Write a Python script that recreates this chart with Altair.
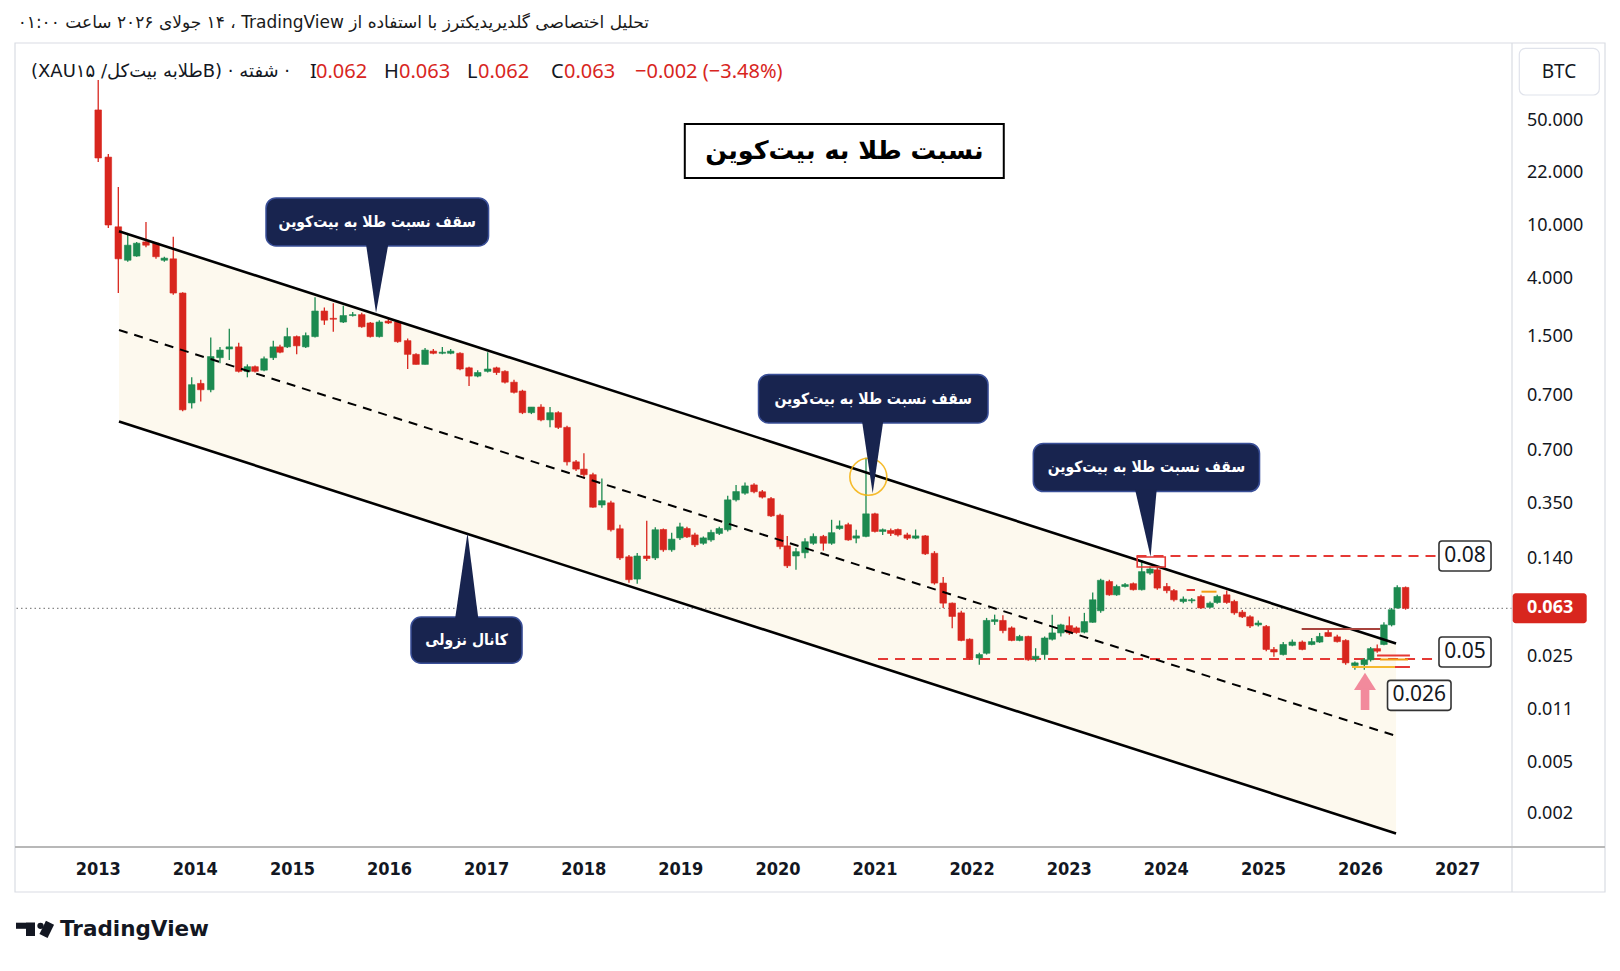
import altair as alt
import pandas as pd

# ---------------- XAU/BTC candles (bar time as decimal year) ----------------
bar_time = [
    2013.000, 2013.104, 2013.207, 2013.304, 2013.396, 2013.492, 2013.595, 2013.681, 2013.773, 2013.870,
    2013.963, 2014.056, 2014.159, 2014.254, 2014.350, 2014.447, 2014.536, 2014.615, 2014.708, 2014.803,
    2014.872, 2014.947, 2015.044, 2015.137, 2015.233, 2015.329, 2015.421, 2015.524, 2015.621, 2015.714,
    2015.802, 2015.895, 2015.988, 2016.084, 2016.187, 2016.273, 2016.366, 2016.451, 2016.544, 2016.630,
    2016.726, 2016.819, 2016.908, 2017.011, 2017.102, 2017.189, 2017.282, 2017.369, 2017.461, 2017.560,
    2017.653, 2017.738, 2017.828, 2017.921, 2018.002, 2018.095, 2018.187, 2018.280, 2018.373, 2018.466,
    2018.551, 2018.649, 2018.737, 2018.820, 2018.906, 2018.991, 2019.063, 2019.145, 2019.232, 2019.311,
    2019.396, 2019.483, 2019.569, 2019.661, 2019.754, 2019.839, 2019.929, 2020.022, 2020.096, 2020.186,
    2020.279, 2020.365, 2020.468, 2020.553, 2020.635, 2020.724, 2020.806, 2020.907, 2020.999, 2021.079,
    2021.162, 2021.236, 2021.332, 2021.418, 2021.517, 2021.612, 2021.702, 2021.795, 2021.888, 2021.974,
    2022.074, 2022.149, 2022.232, 2022.317, 2022.407, 2022.489, 2022.578, 2022.654, 2022.747, 2022.825,
    2022.914, 2023.001, 2023.074, 2023.156, 2023.242, 2023.324, 2023.413, 2023.488, 2023.575, 2023.660,
    2023.747, 2023.832, 2023.907, 2024.005, 2024.078, 2024.175, 2024.262, 2024.357, 2024.450, 2024.524,
    2024.622, 2024.700, 2024.782, 2024.862, 2024.947, 2025.029, 2025.108, 2025.204, 2025.297, 2025.400,
    2025.497, 2025.579, 2025.667, 2025.760, 2025.847, 2025.942, 2026.039, 2026.104, 2026.172, 2026.241,
    2026.320, 2026.378, 2026.464,
]
bar_open = [
    0.614, 0.495, 0.360, 0.309, 0.315, 0.336, 0.334, 0.309, 0.311, 0.266,
    0.161, 0.176, 0.171, 0.198, 0.206, 0.208, 0.186, 0.190, 0.187, 0.198,
    0.208, 0.208, 0.218, 0.208, 0.218, 0.245, 0.237, 0.233, 0.240, 0.241,
    0.232, 0.218, 0.234, 0.233, 0.214, 0.201, 0.192, 0.204, 0.202, 0.202,
    0.202, 0.189, 0.182, 0.186, 0.189, 0.186, 0.177, 0.170, 0.154, 0.158,
    0.149, 0.154, 0.144, 0.123, 0.119, 0.116, 0.101, 0.102, 0.0906, 0.0797,
    0.0720, 0.0800, 0.0793, 0.0903, 0.0823, 0.0869, 0.0907, 0.0881, 0.0848, 0.0861,
    0.0887, 0.0902, 0.1034, 0.1066, 0.1107, 0.1073, 0.1040, 0.0964, 0.0838, 0.0800,
    0.0812, 0.0848, 0.0875, 0.0848, 0.0907, 0.0923, 0.0868, 0.0875, 0.0970, 0.0895,
    0.0899, 0.0903, 0.0881, 0.0868, 0.0877, 0.0810, 0.0707, 0.0645, 0.0617, 0.0547,
    0.0502, 0.0513, 0.0593, 0.0596, 0.0576, 0.0544, 0.0554, 0.0500, 0.0510, 0.0547,
    0.0563, 0.0582, 0.0576, 0.0565, 0.0591, 0.0623, 0.0712, 0.0670, 0.0696, 0.0705,
    0.0686, 0.0740, 0.0751, 0.0696, 0.0683, 0.0650, 0.0652, 0.0665, 0.0633, 0.0647,
    0.0670, 0.0650, 0.0619, 0.0606, 0.0584, 0.0580, 0.0522, 0.0510, 0.0532, 0.0540,
    0.0534, 0.0540, 0.0564, 0.0553, 0.0544, 0.0485, 0.0487, 0.0498, 0.0524, 0.0534,
    0.0584, 0.0631, 0.0693,
]
bar_high = [
    0.704, 0.502, 0.432, 0.350, 0.336, 0.368, 0.336, 0.314, 0.344, 0.267,
    0.181, 0.179, 0.217, 0.208, 0.226, 0.212, 0.192, 0.191, 0.199, 0.214,
    0.210, 0.227, 0.219, 0.222, 0.261, 0.249, 0.254, 0.251, 0.244, 0.243,
    0.233, 0.235, 0.237, 0.235, 0.216, 0.202, 0.207, 0.206, 0.208, 0.206,
    0.203, 0.190, 0.187, 0.203, 0.190, 0.187, 0.179, 0.171, 0.158, 0.160,
    0.158, 0.155, 0.145, 0.124, 0.128, 0.117, 0.114, 0.103, 0.0923, 0.0804,
    0.0811, 0.0940, 0.0912, 0.0907, 0.0890, 0.0931, 0.0914, 0.0890, 0.0875, 0.0902,
    0.0914, 0.1053, 0.1107, 0.1119, 0.1116, 0.1082, 0.1047, 0.0970, 0.0877, 0.0830,
    0.0868, 0.0887, 0.0881, 0.0944, 0.0941, 0.0931, 0.0902, 0.1253, 0.0975, 0.0907,
    0.0907, 0.0907, 0.0890, 0.0903, 0.0881, 0.0818, 0.0727, 0.0647, 0.0623, 0.0549,
    0.0514, 0.0603, 0.0612, 0.0610, 0.0580, 0.0558, 0.0556, 0.0525, 0.0554, 0.0612,
    0.0587, 0.0607, 0.0580, 0.0617, 0.0677, 0.0721, 0.0718, 0.0702, 0.0707, 0.0709,
    0.0786, 0.0763, 0.0757, 0.0707, 0.0688, 0.0665, 0.0660, 0.0670, 0.0650, 0.0670,
    0.0683, 0.0655, 0.0625, 0.0610, 0.0596, 0.0584, 0.0528, 0.0540, 0.0546, 0.0544,
    0.0550, 0.0563, 0.0571, 0.0558, 0.0547, 0.0494, 0.0502, 0.0528, 0.0534, 0.0591,
    0.0631, 0.0700, 0.0696,
]
bar_low = [
    0.484, 0.358, 0.266, 0.307, 0.314, 0.328, 0.311, 0.307, 0.264, 0.155,
    0.157, 0.162, 0.169, 0.193, 0.196, 0.185, 0.181, 0.185, 0.186, 0.196,
    0.202, 0.207, 0.201, 0.207, 0.217, 0.230, 0.223, 0.232, 0.239, 0.227,
    0.217, 0.217, 0.231, 0.212, 0.188, 0.192, 0.192, 0.201, 0.201, 0.201,
    0.187, 0.174, 0.181, 0.185, 0.183, 0.176, 0.168, 0.153, 0.153, 0.148,
    0.144, 0.143, 0.121, 0.118, 0.114, 0.0997, 0.0997, 0.0895, 0.0786, 0.0708,
    0.0705, 0.0782, 0.0786, 0.0816, 0.0816, 0.0861, 0.0869, 0.0834, 0.0842, 0.0854,
    0.0881, 0.0895, 0.1026, 0.1058, 0.1066, 0.1040, 0.0956, 0.0825, 0.0757, 0.0751,
    0.0792, 0.0842, 0.0820, 0.0842, 0.0902, 0.0858, 0.0848, 0.0872, 0.0891, 0.0881,
    0.0877, 0.0875, 0.0861, 0.0864, 0.0804, 0.0702, 0.0631, 0.0575, 0.0542, 0.0498,
    0.0487, 0.0510, 0.0584, 0.0562, 0.0542, 0.0542, 0.0496, 0.0494, 0.0498, 0.0544,
    0.0554, 0.0558, 0.0561, 0.0562, 0.0590, 0.0617, 0.0667, 0.0667, 0.0693, 0.0683,
    0.0683, 0.0734, 0.0686, 0.0675, 0.0650, 0.0645, 0.0645, 0.0629, 0.0631, 0.0643,
    0.0643, 0.0612, 0.0603, 0.0576, 0.0580, 0.0518, 0.0505, 0.0508, 0.0530, 0.0520,
    0.0532, 0.0538, 0.0553, 0.0539, 0.0487, 0.0476, 0.0476, 0.0494, 0.0514, 0.0532,
    0.0580, 0.0629, 0.0626,
]
bar_close = [
    0.493, 0.363, 0.311, 0.331, 0.334, 0.331, 0.314, 0.312, 0.266, 0.156,
    0.175, 0.171, 0.199, 0.205, 0.208, 0.186, 0.190, 0.186, 0.197, 0.208,
    0.203, 0.218, 0.209, 0.219, 0.245, 0.235, 0.236, 0.240, 0.241, 0.228,
    0.218, 0.233, 0.232, 0.213, 0.201, 0.192, 0.205, 0.202, 0.203, 0.204,
    0.188, 0.182, 0.185, 0.188, 0.185, 0.177, 0.169, 0.154, 0.158, 0.149,
    0.154, 0.144, 0.123, 0.119, 0.116, 0.100, 0.103, 0.0902, 0.0793, 0.0718,
    0.0800, 0.0791, 0.0902, 0.0823, 0.0864, 0.0914, 0.0873, 0.0842, 0.0869, 0.0891,
    0.0907, 0.1034, 0.1074, 0.1102, 0.1073, 0.1047, 0.0961, 0.0835, 0.0765, 0.0816,
    0.0854, 0.0875, 0.0848, 0.0890, 0.0918, 0.0861, 0.0877, 0.0970, 0.0895, 0.0902,
    0.0887, 0.0881, 0.0868, 0.0877, 0.0808, 0.0707, 0.0645, 0.0607, 0.0544, 0.0502,
    0.0510, 0.0596, 0.0598, 0.0569, 0.0544, 0.0554, 0.0498, 0.0506, 0.0550, 0.0563,
    0.0584, 0.0563, 0.0564, 0.0593, 0.0655, 0.0716, 0.0670, 0.0696, 0.0702, 0.0686,
    0.0745, 0.0754, 0.0691, 0.0683, 0.0655, 0.0657, 0.0655, 0.0631, 0.0645, 0.0665,
    0.0647, 0.0617, 0.0606, 0.0581, 0.0589, 0.0522, 0.0516, 0.0534, 0.0540, 0.0522,
    0.0541, 0.0554, 0.0554, 0.0541, 0.0491, 0.0491, 0.0498, 0.0524, 0.0518, 0.0584,
    0.0626, 0.0693, 0.063,
]

# ---------------- price scale labels ----------------
price_tick_values = [0.5838, 0.4604, 0.3614, 0.2836, 0.2176, 0.1662, 0.1293,
                     0.1015, 0.07893, 0.05044, 0.03959, 0.03108, 0.02462]
price_tick_labels = ["50.000", "22.000", "10.000", "4.000", "1.500", "0.700", "0.700",
                     "0.350", "0.140", "0.025", "0.011", "0.005", "0.002"]
year_ticks = list(range(2013, 2028))

last_price = 0.063
resistance_level = 0.08
support_level = 0.05

# ---------------- descending channel ----------------
channel_time = [2013.214, 2026.366]
channel_upper = [0.3526, 0.05365]
channel_middle = [0.2247, 0.03516]
channel_lower = [0.1479, 0.02252]

resistance_span = [2023.693, 2026.778]
support_span = [2021.031, 2026.778]

# ---------------- callouts ----------------
ceiling_text = "سقف نسبت طلا به بیت\u200cکوین"
channel_text = "کانال نزولی"
title_text = "نسبت طلا به بیت\u200cکوین"

callout_id = ["c1", "c2", "c3", "c4"]
callout_text = [ceiling_text, ceiling_text, ceiling_text, channel_text]
callout_left = [2014.728, 2019.800, 2022.630, 2016.221]
callout_right = [2017.020, 2022.164, 2024.960, 2017.365]
callout_top = [0.4107, 0.1834, 0.1338, 0.06055]
callout_bottom = [0.3298, 0.1469, 0.1074, 0.04901]
callout_mid_t = [2015.874, 2020.982, 2023.795, 2016.793]
callout_mid_v = [0.3680, 0.1641, 0.1199, 0.05445]
pointer_left = [2015.758, 2020.866, 2023.678, 2016.675]
pointer_tip_t = [2015.861, 2020.976, 2023.838, 2016.803]
pointer_right = [2015.988, 2021.085, 2023.901, 2016.915]
pointer_base = [0.3328, 0.1483, 0.1084, 0.06000]
pointer_tip = [0.2428, 0.1066, 0.07977, 0.08886]

level_box_text = ["0.08", "0.05", "0.026"]
level_box_left = [2026.808, 2026.808, 2026.278]
level_box_right = [2027.344, 2027.344, 2026.932]
level_box_mid_t = [2027.076, 2027.076, 2026.605]
level_box_mid_v = [0.08, 0.0516, 0.04233]

title_left, title_right, title_mid_t, title_mid_v = 2019.041, 2022.326, 2020.684, 0.5089

arrow_head_t = [2025.933, 2026.046, 2026.159]
arrow_head_base = 0.04339
arrow_head_tip = 0.04695
arrow_shaft_t = [2026.002, 2026.091]
arrow_shaft_v = [0.04359, 0.03959]

# small hand-drawn marks near the latest bars
mark_t1 = [2025.394, 2026.170, 2026.201, 2025.912, 2026.355, 2024.209, 2024.362]
mark_t2 = [2026.201, 2026.509, 2026.489, 2026.355, 2026.509, 2024.295, 2024.517]
mark_v = [0.05732, 0.05078, 0.04986, 0.04818, 0.04818, 0.06850, 0.06797]
mark_col = ["#a8433c", "#e53935", "#f39c12", "#f5b82e", "#e53935", "#e53935", "#f39c12"]

peak_box = dict(t1=2023.700, t2=2023.989, v1=0.07966, v2=0.07606)
spike_ring = dict(t=2020.931, v=0.1149)

# ---------------- styling ----------------
GREEN = "#1c8a50"
RED = "#d8261e"
NAVY = "#18244f"
INK = "#131722"
W, H = 1497, 804
FA = "DejaVu Sans"
FA_NARROW = '"DejaVu Sans Condensed", "DejaVu Sans"'
FN = "Noto Sans"

x_scale = alt.Scale(domain=[2012.143, 2027.560], nice=False, zero=False)
y_scale = alt.Scale(type="log", domain=[0.02117, 0.8337], nice=False)


def xq(field):
    return alt.X(field, type="quantitative", scale=x_scale, axis=None)


def yq(field):
    return alt.Y(field, type="quantitative", scale=y_scale, axis=None)


candles = pd.DataFrame({"t": bar_time, "o": bar_open, "h": bar_high,
                        "l": bar_low, "c": bar_close})
candles["dir"] = ["down" if o > c else "up" for o, c in zip(bar_open, bar_close)]
dir_scale = alt.Scale(domain=["up", "down"], range=[GREEN, RED])

one = pd.DataFrame({"k": [0]})

# channel fill
chan_df = pd.DataFrame({"t": channel_time, "up": channel_upper,
                        "mid": channel_middle, "lo": channel_lower})
fill = alt.Chart(chan_df).mark_area(color="#fdf9ee").encode(
    x=xq("t"), y=yq("up"), y2="lo")

# horizontal levels
lv_df = pd.DataFrame({"t1": [resistance_span[0], support_span[0]],
                      "t2": [resistance_span[1], support_span[1]],
                      "v": [resistance_level, support_level]})
levels = alt.Chart(lv_df).mark_rule(color="#e53935", strokeWidth=2,
                                    strokeDash=[10, 7]).encode(
    x=xq("t1"), x2="t2", y=yq("v"))

price_df = pd.DataFrame({"p": [last_price], "txt": [f"{last_price:.3f}"]})
price_line = alt.Chart(price_df).mark_rule(color="#888888", strokeWidth=1.3,
                                           strokeDash=[1.5, 3]).encode(y=yq("p"))

wicks = alt.Chart(candles).mark_rule(strokeWidth=1.3).encode(
    x=xq("t"), y=yq("l"), y2="h",
    color=alt.Color("dir:N", scale=dir_scale, legend=None))

bodies = alt.Chart(candles).mark_rect(width=6.6, strokeWidth=0.6).encode(
    x=xq("t"), y=yq("o"), y2="c",
    color=alt.Color("dir:N", scale=dir_scale, legend=None),
    stroke=alt.Stroke("dir:N", scale=dir_scale, legend=None))

edge_df = pd.DataFrame({"t": channel_time * 2, "v": channel_upper + channel_lower,
                        "edge": ["upper", "upper", "lower", "lower"]})
edges = alt.Chart(edge_df).mark_line(color="black", strokeWidth=2.6).encode(
    x=xq("t"), y=yq("v"), detail="edge:N")
middle = alt.Chart(chan_df).mark_line(color="black", strokeWidth=2,
                                      strokeDash=[9, 7]).encode(x=xq("t"), y=yq("mid"))

marks_df = pd.DataFrame({"t1": mark_t1, "t2": mark_t2, "v": mark_v, "col": mark_col})
scribbles = alt.Chart(marks_df).mark_rule(strokeWidth=2).encode(
    x=xq("t1"), x2="t2", y=yq("v"), color=alt.Color("col:N", scale=None))

peak = alt.Chart(pd.DataFrame([peak_box])).mark_rect(
    fillOpacity=0, stroke="#e53935", strokeWidth=1.6).encode(
    x=xq("t1"), x2="t2", y=yq("v1"), y2="v2")

ring = alt.Chart(pd.DataFrame([spike_ring])).mark_point(
    shape="circle", size=1369, filled=False, color="#f5b10a",
    strokeWidth=1.6, opacity=0.85).encode(x=xq("t"), y=yq("v"))

co_df = pd.DataFrame({"id": callout_id, "text": callout_text, "t1": callout_left,
                      "t2": callout_right, "v1": callout_top, "v2": callout_bottom,
                      "tm": callout_mid_t, "vm": callout_mid_v})
boxes = alt.Chart(co_df).mark_rect(cornerRadius=10, color=NAVY, stroke="#3a4f98",
                                   strokeWidth=1.5).encode(
    x=xq("t1"), x2="t2", y=yq("v1"), y2="v2")
ptr_rows = []
for i, cid in enumerate(callout_id):
    ptr_rows += [
        {"id": cid, "t": pointer_left[i], "b": pointer_base[i], "e": pointer_base[i]},
        {"id": cid, "t": pointer_tip_t[i], "b": pointer_base[i], "e": pointer_tip[i]},
        {"id": cid, "t": pointer_right[i], "b": pointer_base[i], "e": pointer_base[i]},
    ]
pointers = alt.Chart(pd.DataFrame(ptr_rows)).mark_area(color=NAVY).encode(
    x=xq("t"), y=yq("b"), y2="e", detail="id:N")
co_text = alt.Chart(co_df).mark_text(color="white", font=FA_NARROW, fontWeight="bold",
                                     fontSize=15.5, baseline="middle").encode(
    x=xq("tm"), y=yq("vm"), text="text:N")

title_df = pd.DataFrame({"t1": [title_left], "t2": [title_right],
                         "tm": [title_mid_t], "v": [title_mid_v], "text": [title_text]})
title_box = alt.Chart(title_df).mark_rect(height=54, fill="white", stroke="black",
                                          strokeWidth=2).encode(
    x=xq("t1"), x2="t2", y=yq("v"))
title_txt = alt.Chart(title_df).mark_text(font=FA, fontWeight="bold", fontSize=25.5,
                                          color="black", baseline="middle").encode(
    x=xq("tm"), y=yq("v"), text="text:N")

lb_df = pd.DataFrame({"text": level_box_text, "t1": level_box_left, "t2": level_box_right,
                      "tm": level_box_mid_t, "v": level_box_mid_v})
lb_box = alt.Chart(lb_df).mark_rect(height=30, fill="white", stroke="#333333",
                                    strokeWidth=1.6, cornerRadius=3).encode(
    x=xq("t1"), x2="t2", y=yq("v"))
lb_txt = alt.Chart(lb_df).mark_text(font=FN, fontSize=21, color=INK,
                                    baseline="middle").encode(
    x=xq("tm"), y=yq("v"), text="text:N")

head_df = pd.DataFrame({"t": arrow_head_t, "b": [arrow_head_base] * 3,
                        "e": [arrow_head_base, arrow_head_tip, arrow_head_base]})
arrow_head = alt.Chart(head_df).mark_area(color="#f28a9c").encode(
    x=xq("t"), y=yq("b"), y2="e")
shaft_df = pd.DataFrame({"t1": [arrow_shaft_t[0]], "t2": [arrow_shaft_t[1]],
                         "v1": [arrow_shaft_v[0]], "v2": [arrow_shaft_v[1]]})
arrow_shaft = alt.Chart(shaft_df).mark_rect(color="#f28a9c").encode(
    x=xq("t1"), x2="t2", y=yq("v1"), y2="v2")

# time scale labels under the panel
year_df = pd.DataFrame({"year": year_ticks, "label": [str(y) for y in year_ticks]})
year_txt = alt.Chart(year_df).mark_text(
    font='"Liberation Sans Narrow", "DejaVu Sans Condensed", Roboto', fontSize=18,
    fontWeight="bold", color=INK, baseline="middle").encode(
    x=xq("year"), y=alt.value(H + 23), text="label:N")

# price scale on the right
tick_df = pd.DataFrame({"v": price_tick_values, "label": price_tick_labels})
tick_txt = alt.Chart(tick_df).mark_text(align="left", baseline="middle", font=FN,
                                        fontSize=18, color=INK).encode(
    x=alt.value(W + 15), y=yq("v"), text="label:N")
price_box = alt.Chart(price_df).mark_rect(height=30, color=RED, cornerRadius=3).encode(
    x=alt.value(W + 0.7), x2=alt.value(W + 74.7), y=yq("p"))
price_txt = alt.Chart(price_df).mark_text(align="left", baseline="middle", font=FN,
                                          fontSize=18, fontWeight="bold",
                                          color="white").encode(
    x=alt.value(W + 15), y=yq("p"), text="txt:N")

# panel frame and chrome
frame = alt.Chart(one).mark_rect(fillOpacity=0, stroke="#d9dce3", strokeWidth=1.2).encode(
    x=alt.value(0), x2=alt.value(W + 93), y=alt.value(0), y2=alt.value(H + 45))
vsep = alt.Chart(one).mark_rule(color="#d9dce3", strokeWidth=1.2).encode(
    x=alt.value(W), y=alt.value(0), y2=alt.value(H + 45))
hsep = alt.Chart(one).mark_rule(color="#b8b8b8", strokeWidth=2).encode(
    x=alt.value(0), x2=alt.value(W + 93), y=alt.value(H))
btc_btn = alt.Chart(one).mark_rect(fill="white", stroke="#e0e3eb", strokeWidth=1.2,
                                   cornerRadius=6).encode(
    x=alt.value(W + 7.3), x2=alt.value(W + 87.3), y=alt.value(5.3), y2=alt.value(52))
btc_txt = alt.Chart(one).mark_text(font=FN, fontSize=19, color=INK,
                                   baseline="middle").encode(
    x=alt.value(W + 47), y=alt.value(29), text=alt.value("BTC"))

header_1 = alt.Chart(one).mark_text(font=FA, fontSize=17, color="#1a1a1a",
                                    align="right", baseline="middle").encode(
    x=alt.value(634), y=alt.value(-20),
    text=alt.value("\u202bتحلیل اختصاصی گلدیریدیکترز با استفاده از TradingView\u200f ، "
                   "۱۴ جولای ۲۰۲۶ ساعت ۰۱:۰۰\u202c"))

legend_tokens = [
    ("(XAUطلابه بیت\u200cکل/ ۱۵B) · شفته ·", 16, INK, FA, 18),
    ("I", 295, INK, FN, 20), ("0.062", 301, RED, FN, 20),
    ("H", 369, INK, FN, 20), ("0.063", 384, RED, FN, 20),
    ("L", 452, INK, FN, 20), ("0.062", 463, RED, FN, 20),
    ("C", 536, INK, FN, 20), ("0.063", 549, RED, FN, 20),
    ("\u22120.002 (\u22123.48%)", 620, RED, FN, 20),
]
header_2 = [
    alt.Chart(one).mark_text(font=f, fontSize=fs, color=col, align="left",
                             baseline="middle").encode(
        x=alt.value(px), y=alt.value(29), text=alt.value(txt))
    for txt, px, col, f, fs in legend_tokens
]

# TradingView logo
logo_bar = alt.Chart(one).mark_rect(color=INK).encode(
    x=alt.value(1), x2=alt.value(20), y=alt.value(879.7), y2=alt.value(885.8))
logo_stem = alt.Chart(one).mark_rect(color=INK).encode(
    x=alt.value(11), x2=alt.value(20), y=alt.value(879.7), y2=alt.value(893))
logo_dot = alt.Chart(one).mark_point(shape="circle", size=40, filled=True,
                                     color=INK, opacity=1).encode(
    x=alt.value(25.5), y=alt.value(882.8))
logo_slash = alt.Chart(one).mark_rule(color=INK, strokeWidth=9, strokeCap="butt").encode(
    x=alt.value(35), x2=alt.value(28.5), y=alt.value(879.7), y2=alt.value(893))
logo_txt = alt.Chart(one).mark_text(font=FA, fontSize=21.5, fontWeight="bold", color=INK,
                                    align="left", baseline="alphabetic").encode(
    x=alt.value(45), y=alt.value(893), text=alt.value("TradingView"))

chart = alt.layer(
    fill, levels, price_line, wicks, bodies, edges, middle, scribbles, peak, ring,
    boxes, pointers, co_text, title_box, title_txt, arrow_head, arrow_shaft,
    lb_box, lb_txt, frame, vsep, hsep, year_txt, price_box, price_txt, tick_txt,
    btc_btn, btc_txt, header_1, *header_2,
    logo_bar, logo_stem, logo_dot, logo_slash, logo_txt,
).properties(
    width=W, height=H,
    padding={"left": 15, "top": 43, "right": 108, "bottom": 124},
    autosize=alt.AutoSizeParams(type="none"),
    background="white",
).configure_view(stroke=None)

chart.save("out.html", embed_options={"renderer": "svg", "actions": False})
